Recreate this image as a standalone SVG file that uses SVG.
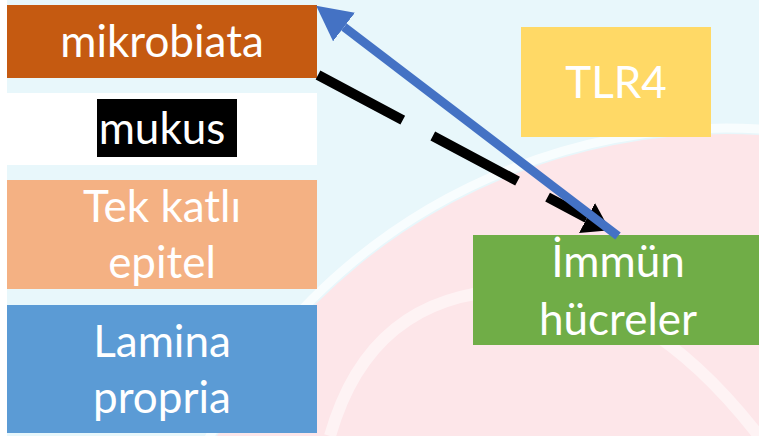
<svg xmlns="http://www.w3.org/2000/svg" width="759" height="436" viewBox="0 0 759 436">
  <defs>
    <style>
      .lbl { font-family: Lato, "Open Sans", "Liberation Sans", sans-serif; font-size: 44px; fill: #ffffff; text-anchor: middle; }
      .conn-blue { fill: none; stroke: #4472c4; stroke-width: 9; }
      .conn-black { fill: none; stroke: #000000; stroke-width: 10; stroke-dasharray: 96 34; }
    </style>
    <marker id="headBlue" markerUnits="userSpaceOnUse" markerWidth="36" markerHeight="36" refX="0" refY="18" orient="auto" viewBox="0 0 36 36">
      <path d="M0,0 L35,18 L0,36 z" fill="#4472c4"/>
    </marker>
    <marker id="headBlack" markerUnits="userSpaceOnUse" markerWidth="36" markerHeight="36" refX="0" refY="17" orient="auto" viewBox="0 0 36 34">
      <path d="M0,0 L26,17 L0,34 z" fill="#000000"/>
    </marker>
  </defs>

  <!-- faint watermark background -->
  <g id="background">
    <rect x="0" y="0" width="759" height="436" fill="#ffffff"/>
    <rect x="7" y="0" width="752" height="436" fill="#e8f7fb"/>
    <circle cx="726" cy="714" r="580" fill="#fde6e9"/>
    <circle cx="726" cy="714" r="586" fill="none" stroke="#ffffff" stroke-width="9" opacity="0.7"/>
    <path d="M330,436 C360,330 430,290 520,290 C620,290 700,360 759,436" fill="none" stroke="#ffffff" stroke-width="12" opacity="0.5"/>
  </g>

  <g id="node-mikrobiata">
    <rect x="7" y="5" width="310" height="73" fill="#c55a11"/>
    <text class="lbl" x="162" y="57">mikrobiata</text>
  </g>

  <g id="node-mukus">
    <rect x="7" y="93" width="310" height="72" fill="#ffffff"/>
    <rect x="97" y="99" width="140" height="58" fill="#000000"/>
    <text class="lbl" x="162" y="144">mukus</text>
  </g>

  <g id="node-epitel">
    <rect x="7" y="180" width="310" height="109" fill="#f4b183"/>
    <text class="lbl" x="162" y="222">Tek katlı</text>
    <text class="lbl" x="162" y="278">epitel</text>
  </g>

  <g id="node-lamina">
    <rect x="7" y="305" width="310" height="128" fill="#5b9bd5"/>
    <text class="lbl" x="162" y="357">Lamina</text>
    <text class="lbl" x="162" y="413">propria</text>
  </g>

  <g id="node-tlr4">
    <rect x="521" y="27" width="190" height="110" fill="#ffd966"/>
    <text class="lbl" x="616" y="98">TLR4</text>
  </g>

  <g id="node-immun">
    <rect x="473" y="235" width="290" height="110" fill="#70ad47"/>
    <text class="lbl" x="618" y="277">İmmün</text>
    <text class="lbl" x="618" y="335">hücreler</text>
  </g>

  <g id="connectors">
    <path class="conn-black" d="M318,75 L587,218" marker-end="url(#headBlack)"/>
    <path class="conn-blue" d="M618,236 L344,27" marker-end="url(#headBlue)"/>
  </g>
</svg>
